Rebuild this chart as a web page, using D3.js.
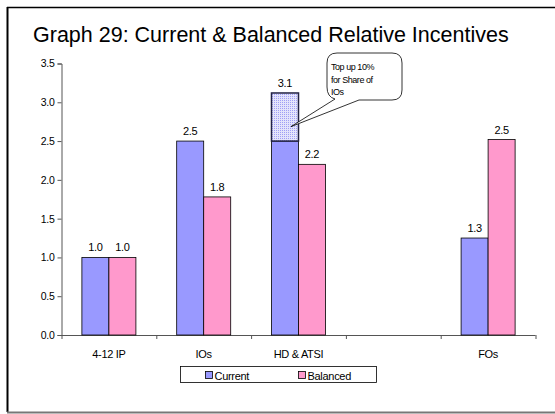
<!DOCTYPE html>
<html>
<head>
<meta charset="utf-8">
<script src="https://cdn.jsdelivr.net/npm/d3@7"></script>
<style>
  html, body { margin: 0; padding: 0; background: #fff; }
  svg { display: block; font-family: Arial, "Liberation Sans", sans-serif; }
</style>
</head>
<body>
<svg id="chart" width="555" height="414"></svg>
<script>
// Categories along the x axis (one slot is intentionally left blank)
const categories = ["4-12 IP", "IOs", "HD & ATSI", "", "FOs"];
const seriesNames = ["Current", "Balanced"];
const currentValues = [1.0, 2.5, 2.5, null, 1.25];
const balancedValues = [1.0, 1.78, 2.2, null, 2.52];
// Top-up stacked on the current HD & ATSI bar (10% for share of IOs)
const topUpCategory = "HD & ATSI";
const topUpValue = 0.62;
const yTicks = [0, 0.5, 1.0, 1.5, 2.0, 2.5, 3.0, 3.5];
const calloutLines = ["Top up 10%", "for Share of", "IOs"];

const colors = { Current: "#9999FF", Balanced: "#FF99CC" };
const FONT = "Arial, 'Liberation Sans', sans-serif";

const svg = d3.select("#chart");

// Fine dotted pattern for the top-up segment
const defs = svg.append("defs");
const pat = defs.append("pattern")
  .attr("id", "dots").attr("width", 2).attr("height", 2)
  .attr("patternUnits", "userSpaceOnUse");
pat.append("rect").attr("width", 2).attr("height", 2).attr("fill", "#e4e4fb");
pat.append("rect").attr("width", 1).attr("height", 1).attr("fill", "#9f9ff5");

// Chart frame
svg.append("line").attr("x1", 7).attr("x2", 555).attr("y1", 7.5).attr("y2", 7.5)
  .attr("stroke", "#000").attr("stroke-width", 1.5);
svg.append("line").attr("x1", 7.5).attr("x2", 7.5).attr("y1", 7).attr("y2", 412)
  .attr("stroke", "#000").attr("stroke-width", 2);
svg.append("line").attr("x1", 7).attr("x2", 555).attr("y1", 412.5).attr("y2", 412.5)
  .attr("stroke", "#777").attr("stroke-width", 2);

// Title
svg.append("text")
  .attr("x", 33).attr("y", 42)
  .attr("font-size", 21.5)
  .attr("fill", "#000")
  .text("Graph 29: Current & Balanced Relative Incentives");

const x0 = 61.5, x1 = 535.5, yBottom = 335, yTop = 63.5;

const x = d3.scaleBand().domain(categories.map((c, i) => i)).range([x0, x1]).paddingInner(0).paddingOuter(0);
const xs = d3.scaleBand().domain(seriesNames).range([0, x.bandwidth()]).paddingInner(0).paddingOuter(0.755);
const y = d3.scaleLinear().domain([0, 3.5]).range([yBottom, yTop]);

// Y axis
const yAxis = d3.axisLeft(y).tickValues(yTicks).tickFormat(d3.format(".1f")).tickSize(4).tickPadding(3);
const gy = svg.append("g").attr("transform", `translate(${x0},0)`).call(yAxis);
gy.select(".domain").attr("stroke", "#555");
gy.selectAll(".tick line").attr("stroke", "#555");
gy.selectAll(".tick text").attr("font-size", 10.5).attr("fill", "#000").attr("font-family", FONT)
  .attr("letter-spacing", -0.3);

// X axis with ticks at the category boundaries
const boundaries = d3.range(categories.length + 1).map(i => x0 + i * x.step());
const gx = svg.append("g");
gx.append("line").attr("x1", x0).attr("x2", x1).attr("y1", yBottom + 0.5).attr("y2", yBottom + 0.5).attr("stroke", "#555");
gx.selectAll("line.tk").data(boundaries).join("line").attr("class", "tk")
  .attr("x1", d => d + 0.5).attr("x2", d => d + 0.5)
  .attr("y1", yBottom).attr("y2", yBottom + 4).attr("stroke", "#555");
gx.selectAll("text").data(categories).join("text")
  .attr("x", (d, i) => x(i) + x.bandwidth() / 2)
  .attr("y", 358)
  .attr("text-anchor", "middle")
  .attr("font-size", 11)
  .attr("letter-spacing", -0.3)
  .text(d => d);

// Bars
const rows = categories.map((c, i) => ({ i, cat: c, Current: currentValues[i], Balanced: balancedValues[i] }));
const fmt = d3.format(".1f");
const bars = [];
rows.forEach(r => seriesNames.forEach(s => { if (r[s] != null) bars.push({ i: r.i, cat: r.cat, s, v: r[s] }); }));

svg.append("g").selectAll("rect").data(bars).join("rect")
  .attr("x", d => x(d.i) + xs(d.s))
  .attr("y", d => y(d.v))
  .attr("width", xs.bandwidth())
  .attr("height", d => y(0) - y(d.v))
  .attr("fill", d => colors[d.s])
  .attr("stroke", "#000").attr("stroke-width", 0.8);

// Top-up segment
const tIdx = categories.indexOf(topUpCategory);
const tBase = currentValues[tIdx];
const tTotal = tBase + topUpValue;
svg.append("rect")
  .attr("x", x(tIdx) + xs("Current"))
  .attr("y", y(tTotal))
  .attr("width", xs.bandwidth())
  .attr("height", y(tBase) - y(tTotal))
  .attr("fill", "url(#dots)")
  .attr("stroke", "#222244").attr("stroke-width", 1.5);

// Value labels
const labels = bars.map(d => {
  const v = (d.s === "Current" && d.i === tIdx) ? tTotal : d.v;
  return { ...d, lv: v };
});
svg.append("g").selectAll("text").data(labels).join("text")
  .attr("x", d => x(d.i) + xs(d.s) + xs.bandwidth() / 2)
  .attr("y", d => y(d.lv) - 6)
  .attr("text-anchor", "middle")
  .attr("font-size", 11)
  .attr("letter-spacing", -0.3)
  .text(d => fmt(d.lv));

// Callout bubble pointing at the top-up segment
const tipX = x(tIdx) + xs("Current") + xs.bandwidth() * 0.72;
const tipY = y(tBase + topUpValue * 0.3);
const bx = 327, by = 53, bw = 75, bh = 47, r = 10;
const callout = d3.path();
callout.moveTo(bx + r, by);
callout.lineTo(bx + bw - r, by);
callout.quadraticCurveTo(bx + bw, by, bx + bw, by + r);
callout.lineTo(bx + bw, by + bh - r);
callout.quadraticCurveTo(bx + bw, by + bh, bx + bw - r, by + bh);
callout.lineTo(bx + 32, by + bh);
callout.lineTo(tipX, tipY);
callout.lineTo(bx + 8, by + bh - 1);
callout.quadraticCurveTo(bx, by + bh - 3, bx, by + bh - r - 3);
callout.lineTo(bx, by + r);
callout.quadraticCurveTo(bx, by, bx + r, by);
callout.closePath();
svg.append("path").attr("d", callout.toString())
  .attr("fill", "#fff").attr("stroke", "#000").attr("stroke-width", 0.8);
svg.append("g").selectAll("text").data(calloutLines).join("text")
  .attr("x", bx + 4)
  .attr("y", (d, i) => by + 17 + i * 12.5)
  .attr("font-size", 9)
  .attr("letter-spacing", -0.45)
  .text(d => d);

// Legend
const lg = svg.append("g");
lg.append("rect").attr("x", 180.5).attr("y", 366.5).attr("width", 196).attr("height", 16)
  .attr("fill", "#fff").attr("stroke", "#000").attr("stroke-width", 0.8);
const legendX = [205, 298];
seriesNames.forEach((s, k) => {
  lg.append("rect").attr("x", legendX[k] + 0.5).attr("y", 371.5).attr("width", 7).attr("height", 7)
    .attr("fill", colors[s]).attr("stroke", "#000").attr("stroke-width", 0.8);
  lg.append("text").attr("x", legendX[k] + 9.5).attr("y", 379.5).attr("font-size", 11)
    .attr("letter-spacing", -0.3).text(s);
});
</script>
</body>
</html>
